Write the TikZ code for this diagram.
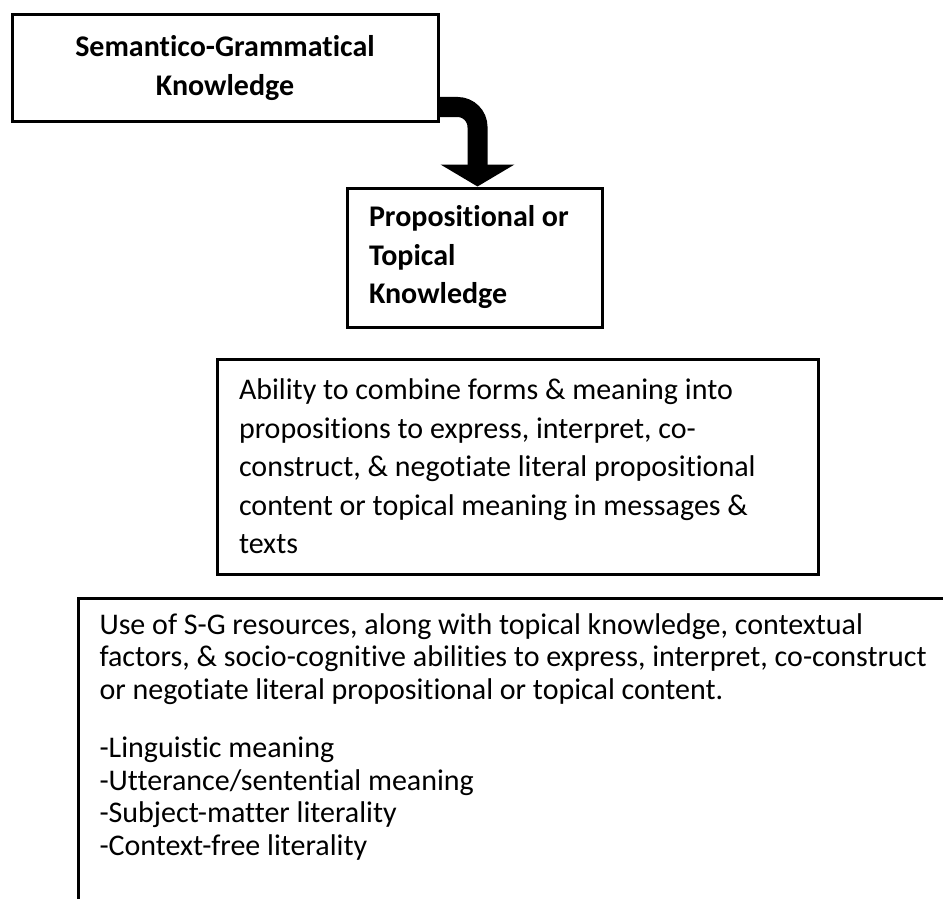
\documentclass[tikz,border=0pt]{standalone}
\usepackage{fontspec}
\setmainfont{Carlito}[Ligatures=NoCommon]
\usetikzlibrary{arrows.meta,calc}
\begin{document}
\begin{tikzpicture}[x=1pt,y=-1pt,
  box/.style={draw=black, line width=3pt, rectangle, inner ysep=0pt},
  headtxt/.style={font=\fontsize{30}{38.5}\selectfont\bfseries},
  bodytxt/.style={font=\fontsize{30}{38.5}\selectfont},
  listtxt/.style={font=\fontsize{30}{32.5}\selectfont},
  bigarrow/.style={line width=20pt, rounded corners=20pt,
    -{Triangle[width=73pt,length=22pt]}},
]
\useasboundingbox (0,0) rectangle (943,899);
\fill[white] (0,0) rectangle (943,899);
\begin{scope}
\clip (0,0) rectangle (943,899);

% top box
\node[box, headtxt, minimum width=426pt, minimum height=106pt,
      text width=400pt, align=center, inner xsep=13pt] (sg) at (225,68)
  {Semantico-Grammatical\\Knowledge};

% second box
\node[box, headtxt, minimum width=255pt, minimum height=139pt,
      text width=211pt, align=flush left, inner xsep=22pt] (prop) at (474.5,257.5)
  {Propositional or\\Topical\\Knowledge};

% third box
\node[box, bodytxt, minimum width=601pt, minimum height=215pt,
      text width=557pt, align=flush left, inner xsep=22pt] (abil) at (517.5,466.5)
  {Ability to combine forms \& meaning into\\
   propositions to express, interpret, co-\\
   construct, \& negotiate literal propositional\\
   content or topical meaning in messages \&\\
   texts};

% bottom box, running off the page
\node[box, listtxt, anchor=north west, inner xsep=21pt, inner ysep=15pt] (use) at (77,597)
  {\parbox[t][320pt][t]{900pt}{\raggedright
   Use of S-G resources, along with topical knowledge, contextual\\
   factors, \& socio-cognitive abilities to express, interpret, co-construct\\
   or negotiate literal propositional or topical content.\par
   \vspace{26pt}
   -Linguistic meaning\\
   -Utterance/sentential meaning\\
   -Subject-matter literality\\
   -Context-free literality}};

% bent arrow from the top box down to the second box
\coordinate (a0) at ($(sg.south east)+(0,-15.5)$);
\draw[bigarrow] (a0) -| ($(prop.north)+(3,0)$);
\end{scope}
\end{tikzpicture}
\end{document}
